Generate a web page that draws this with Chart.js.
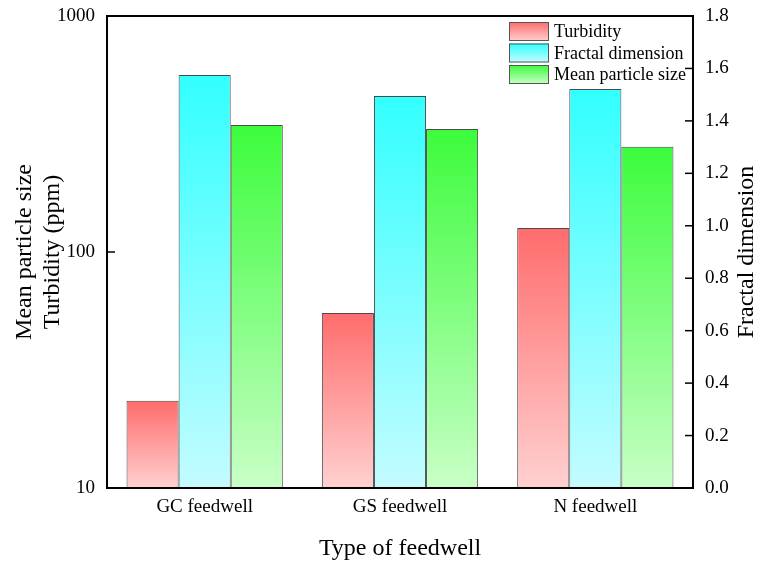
<!DOCTYPE html>
<html>
<head>
<meta charset="utf-8">
<script src="https://cdn.jsdelivr.net/npm/chart.js@4.4.0/dist/chart.umd.min.js"></script>
<style>
    html, body { margin: 0; padding: 0; background: #fff; }
    #box { width: 761px; height: 563px; }
</style>
</head>
<body>
<div id="box"><canvas id="barChart"></canvas></div>
<script>
// data
const categories = ['GC feedwell', 'GS feedwell', 'N feedwell'];
const turbidity = [23.4, 55.2, 126.5];
const fractalDimension = [1.575, 1.495, 1.522];
const meanParticleSize = [345, 332, 279];
const leftTicks = [10, 100, 1000];

const fonte = '"Liberation Serif", "Times New Roman", serif';

// top colour / bottom colour of each gradient
const redColors = ['rgb(255,108,108)', 'rgb(255,208,208)'];
const cyanColors = ['rgb(50,255,255)', 'rgb(195,252,255)'];
const greenColors = ['rgb(60,252,60)', 'rgb(200,255,198)'];

function gradiente(ctx, cores) {
    const chart = ctx.chart;
    const area = chart.chartArea;
    if (!area || ctx.type !== 'data') {
        return cores[0];
    }
    const ds = chart.data.datasets[ctx.datasetIndex];
    const escala = chart.scales[ds.yAxisID];
    const yTopo = escala.getPixelForValue(ctx.raw);
    const g = chart.ctx.createLinearGradient(0, yTopo, 0, area.bottom);
    g.addColorStop(0, cores[0]);
    g.addColorStop(1, cores[1]);
    return g;
}

// frame, inward ticks, legend and right title
const extras = {
    id: 'extras',
    afterDraw(chart) {
        const c = chart.ctx;
        const a = chart.chartArea;
        c.save();
        c.strokeStyle = '#000';
        c.lineWidth = 2;
        c.strokeRect(a.left, a.top, a.right - a.left, a.bottom - a.top);

        c.lineWidth = 1.5;
        chart.scales.y.ticks.forEach(t => {
            const py = chart.scales.y.getPixelForValue(t.value);
            c.beginPath();
            c.moveTo(a.left, py);
            c.lineTo(a.left + 8, py);
            c.stroke();
        });
        chart.scales.y1.ticks.forEach(t => {
            const py = chart.scales.y1.getPixelForValue(t.value);
            c.beginPath();
            c.moveTo(a.right, py);
            c.lineTo(a.right - 8, py);
            c.stroke();
        });

        // legend
        const lista = [redColors, cyanColors, greenColors];
        c.font = '18px ' + fonte;
        c.textBaseline = 'middle';
        c.textAlign = 'left';
        chart.data.datasets.forEach((ds, i) => {
            const bx = 509, by = 22 + i * 21.5, bw = 40, bh = 19;
            const g = c.createLinearGradient(0, by, 0, by + bh);
            g.addColorStop(0, lista[i][0]);
            g.addColorStop(1, lista[i][1]);
            c.fillStyle = g;
            c.fillRect(bx, by, bw, bh);
            c.strokeStyle = '#555';
            c.lineWidth = 1;
            c.strokeRect(bx + 0.5, by + 0.5, bw - 1, bh - 1);
            c.fillStyle = '#000';
            c.fillText(ds.label, 554, by + bh / 2 + 1);
        });

        // right axis title, reading bottom to top
        c.translate(747, (a.top + a.bottom) / 2);
        c.rotate(-Math.PI / 2);
        c.textAlign = 'center';
        c.font = '24px ' + fonte;
        c.fillText('Fractal dimension', 0, 0);
        c.restore();
    }
};

const dados = {
    labels: categories,
    datasets: [{
        label: 'Turbidity',
        data: turbidity,
        yAxisID: 'y',
        backgroundColor: (ctx) => gradiente(ctx, redColors),
        borderColor: '#4a4a4a',
        borderWidth: 1
    },
    {
        label: 'Fractal dimension',
        data: fractalDimension,
        yAxisID: 'y1',
        backgroundColor: (ctx) => gradiente(ctx, cyanColors),
        borderColor: '#4a4a4a',
        borderWidth: 1
    },
    {
        label: 'Mean particle size',
        data: meanParticleSize,
        yAxisID: 'y',
        backgroundColor: (ctx) => gradiente(ctx, greenColors),
        borderColor: '#4a4a4a',
        borderWidth: 1
    }]
};

const config = {
    type: 'bar',
    data: dados,
    options: {
        responsive: true,
        maintainAspectRatio: false,
        animation: false,
        devicePixelRatio: 1,
        categoryPercentage: 0.8,
        barPercentage: 1.0,
        layout: { padding: { top: 16, left: 0, right: 0, bottom: 0 } },
        plugins: {
            legend: { display: false },
            tooltip: { enabled: false }
        },
        scales: {
            x: {
                grid: { display: false, drawTicks: false },
                border: { display: false },
                ticks: { color: '#000', padding: 8, font: { family: fonte, size: 19 } },
                title: {
                    display: true,
                    text: 'Type of feedwell',
                    color: '#000',
                    font: { family: fonte, size: 24 },
                    padding: { top: 0, bottom: 0 }
                },
                afterFit: (s) => {
                    s.height = 75;
                    s.paddingLeft = 0;
                    s.paddingRight = 0;
                }
            },
            y: {
                type: 'logarithmic',
                position: 'left',
                min: 10,
                max: 1000,
                beginAtZero: false,
                afterBuildTicks: (s) => { s.ticks = leftTicks.map(v => ({ value: v })); },
                grid: { display: false, drawTicks: false },
                border: { display: false },
                ticks: {
                    color: '#000',
                    padding: 12,
                    font: { family: fonte, size: 19 },
                    callback: (v) => String(v)
                },
                title: {
                    display: true,
                    text: ['Mean particle size', 'Turbidity (ppm)'],
                    color: '#000',
                    font: { family: fonte, size: 24, lineHeight: 1.15 },
                    padding: { top: 11, bottom: 0 }
                },
                afterFit: (s) => {
                    s.width = 107;
                    s.paddingTop = 0;
                    s.paddingBottom = 0;
                }
            },
            y1: {
                type: 'linear',
                position: 'right',
                min: 0,
                max: 1.8,
                grid: { display: false, drawTicks: false },
                border: { display: false },
                ticks: {
                    stepSize: 0.2,
                    color: '#000',
                    padding: 12,
                    font: { family: fonte, size: 19 },
                    callback: (v) => v.toFixed(1)
                },
                afterFit: (s) => {
                    s.width = 68;
                    s.paddingTop = 0;
                    s.paddingBottom = 0;
                }
            }
        }
    },
    plugins: [extras]
};

let myChart = new Chart(document.getElementById('barChart'), config);
</script>
</body>
</html>
